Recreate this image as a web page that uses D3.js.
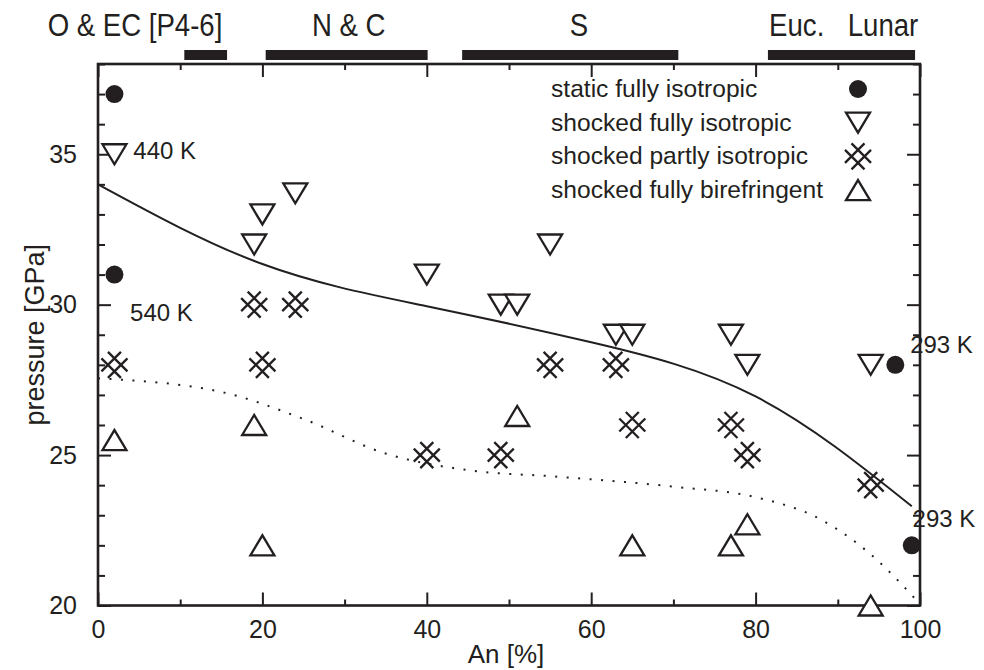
<!DOCTYPE html>
<html>
<head>
<meta charset="utf-8">
<script src="https://cdnjs.cloudflare.com/ajax/libs/d3/7.8.5/d3.min.js"></script>
<style>
  body { margin: 0; background: #fff; }
  svg text { font-family: "Liberation Sans", Arial, sans-serif; fill: #231f20; }
</style>
</head>
<body>
<div id="cnv"></div>
<script>
// data: [An %, pressure GPa]
var staticIso = [[2, 37], [2, 31], [97, 28], [99, 22]];
var shockedFullIso = [[2, 35], [19, 32], [20, 33], [24, 33.7], [40, 31], [49, 30], [51, 30],
  [55, 32], [63, 29], [65, 29], [77, 29], [79, 28], [94, 28]];
var shockedPartIso = [[2, 28], [19, 30], [20, 28], [24, 30], [40, 25], [49, 25], [55, 28],
  [63, 28], [65, 26], [77, 26], [79, 25], [94, 24]];
var shockedBiref = [[2, 25.5], [19, 26], [20, 22], [51, 26.3], [65, 22], [77, 22], [79, 22.7], [94, 20]];

// fitted boundaries
var upperCurve = [[0, 34], [20, 31.35], [40, 29.95], [60, 28.75], [80, 26.95], [99, 23.3]];
var lowerCurve = [[0, 27.55], [15, 27.1], [25, 26.2], [35, 25.05], [45, 24.5], [56, 24.28], [70, 23.95],
  [80, 23.6], [88, 22.85], [94, 21.7], [100, 20.05]];

// meteorite groups along the top
var groupNames = ["O & EC [P4-6]", "N & C", "S", "Euc.", "Lunar"];
var groupLabelAn = [4.5, 30.5, 58.5, 85, 95.5];
var groupBars = [[10.5, 15.7], [20.4, 40.1], [44.3, 70.6], [81.5, 99.4]];

// temperature notes
var tempNotes = [{t: "440 K", an: 4.3, p: 34.85}, {t: "540 K", an: 3.9, p: 29.45},
  {t: "293 K", an: 98.8, p: 28.4}, {t: "293 K", an: 99.1, p: 22.6}];

var legendLabels = ["static fully isotropic", "shocked fully isotropic",
  "shocked partly isotropic", "shocked fully birefringent"];

var xMajorTicks = [0, 20, 40, 60, 80, 100];
var yMajorTicks = [20, 25, 30, 35];

var width = 984, height = 670;
var margin = {top: 64, right: 64, bottom: 64.5, left: 98},
    graphWidth = width - margin.left - margin.right,
    graphHeight = height - margin.top - margin.bottom;
var ink = "#231f20";

var svg = d3.select("#cnv").append("svg")
  .attr("width", width)
  .attr("height", height);

var g = svg.append("g")
  .attr("transform", "translate(" + margin.left + "," + margin.top + ")");

var xScale = d3.scaleLinear().domain([0, 100]).range([0, graphWidth]);
var yScale = d3.scaleLinear().domain([20, 38]).range([graphHeight, 0]);

var xMinor = d3.range(0, 101, 10).filter(function(d){ return xMajorTicks.indexOf(d) < 0; });
var yMinor = d3.range(20, 39, 1).filter(function(d){ return yMajorTicks.indexOf(d) < 0; });

function styleAxis(sel) {
  sel.select(".domain").remove();
  sel.selectAll("line").attr("stroke", ink).attr("stroke-width", 2);
  sel.selectAll("text").style("font-size", "25px").attr("fill", ink);
}

// ticks point inward on all four sides
g.append("g").attr("transform", "translate(0," + graphHeight + ")")
  .call(d3.axisBottom(xScale).tickValues(xMajorTicks).tickSize(-13).tickPadding(15).tickFormat(d3.format("d")))
  .call(styleAxis);
g.append("g").attr("transform", "translate(0," + graphHeight + ")")
  .call(d3.axisBottom(xScale).tickValues(xMinor).tickSize(-6).tickFormat(""))
  .call(styleAxis);
g.append("g")
  .call(d3.axisTop(xScale).tickValues(xMajorTicks).tickSize(-13).tickFormat(""))
  .call(styleAxis);
g.append("g")
  .call(d3.axisTop(xScale).tickValues(xMinor).tickSize(-6).tickFormat(""))
  .call(styleAxis);
g.append("g")
  .call(d3.axisLeft(yScale).tickValues(yMajorTicks).tickSize(-13).tickPadding(21))
  .call(styleAxis);
g.append("g")
  .call(d3.axisLeft(yScale).tickValues(yMinor).tickSize(-7).tickFormat(""))
  .call(styleAxis);
g.append("g").attr("transform", "translate(" + graphWidth + ",0)")
  .call(d3.axisRight(yScale).tickValues(yMajorTicks).tickSize(-13).tickFormat(""))
  .call(styleAxis);
g.append("g").attr("transform", "translate(" + graphWidth + ",0)")
  .call(d3.axisRight(yScale).tickValues(yMinor).tickSize(-7).tickFormat(""))
  .call(styleAxis);

g.append("rect")
  .attr("width", graphWidth)
  .attr("height", graphHeight)
  .attr("fill", "none")
  .attr("stroke", ink)
  .attr("stroke-width", 2.6);

// axis titles
svg.append("text")
  .attr("text-anchor", "middle")
  .attr("x", margin.left + xScale(50) - 3)
  .attr("y", 663)
  .style("font-size", "26px")
  .text("An [%]");
svg.append("text")
  .attr("text-anchor", "middle")
  .attr("transform", "translate(44," + (margin.top + graphHeight / 2) + ") rotate(-90)")
  .style("font-size", "27px")
  .text("pressure [GPa]");

// group bars and names (names are set a little condensed)
svg.selectAll(".gbar").data(groupBars).enter().append("rect")
  .attr("class", "gbar")
  .attr("x", function(d){ return margin.left + xScale(d[0]); })
  .attr("width", function(d){ return xScale(d[1]) - xScale(d[0]); })
  .attr("y", 50)
  .attr("height", 10)
  .attr("fill", ink);
svg.selectAll(".gname").data(groupNames).enter().append("text")
  .attr("class", "gname")
  .attr("text-anchor", "middle")
  .attr("transform", function(d, i){
    return "translate(" + (margin.left + xScale(groupLabelAn[i])) + ",36) scale(0.89,1)";
  })
  .style("font-size", "31px")
  .text(function(d){ return d; });

// fitted lines
var line = d3.line()
  .x(function(d){ return xScale(d[0]); })
  .y(function(d){ return yScale(d[1]); });
g.append("path").datum(upperCurve)
  .attr("d", line.curve(d3.curveNatural))
  .attr("fill", "none")
  .attr("stroke", ink)
  .attr("stroke-width", 2);
g.append("path").datum(lowerCurve)
  .attr("d", line.curve(d3.curveMonotoneX))
  .attr("fill", "none")
  .attr("stroke", ink)
  .attr("stroke-width", 2)
  .attr("stroke-dasharray", "2 9.5");

// marker shapes
var triDown = "M-12,-10L12,-10L0,10Z",
    triUp = "M-12,10L12,10L0,-10Z",
    hatch = "M-13,-6.5L6.5,13M-6.5,-13L13,6.5M-13,6.5L6.5,-13M-6.5,13L13,-6.5";

function drawMarks(data, kind) {
  var sel = g.selectAll(".m-" + kind).data(data).enter();
  if (kind == "circle") {
    sel.append("circle")
      .attr("class", "m-" + kind)
      .attr("cx", function(d){ return xScale(d[0]); })
      .attr("cy", function(d){ return yScale(d[1]); })
      .attr("r", 9)
      .attr("fill", ink);
  } else {
    sel.append("path")
      .attr("class", "m-" + kind)
      .attr("transform", function(d){ return "translate(" + xScale(d[0]) + "," + yScale(d[1]) + ")"; })
      .attr("d", kind == "down" ? triDown : kind == "up" ? triUp : hatch)
      .attr("fill", kind == "hatch" ? "none" : "#fff")
      .attr("stroke", ink)
      .attr("stroke-width", 2.3);
  }
}
drawMarks(staticIso, "circle");
drawMarks(shockedFullIso, "down");
drawMarks(shockedPartIso, "hatch");
drawMarks(shockedBiref, "up");

// temperature notes
g.selectAll(".note").data(tempNotes).enter().append("text")
  .attr("class", "note")
  .attr("x", function(d){ return xScale(d.an); })
  .attr("y", function(d){ return yScale(d.p); })
  .style("font-size", "24px")
  .text(function(d){ return d.t; });

// legend
var legendKinds = ["circle", "down", "hatch", "up"];
var legend = svg.append("g").attr("transform", "translate(551,89)");
legendLabels.forEach(function(lab, i){
  var yy = i * 33.7;
  legend.append("text")
    .attr("x", 0)
    .attr("y", yy + 8)
    .style("font-size", "24.6px")
    .text(lab);
  if (legendKinds[i] == "circle") {
    legend.append("circle").attr("cx", 307).attr("cy", yy).attr("r", 9).attr("fill", ink);
  } else {
    var k = legendKinds[i];
    legend.append("path")
      .attr("transform", "translate(307," + yy + ")")
      .attr("d", k == "down" ? triDown : k == "up" ? triUp : hatch)
      .attr("fill", k == "hatch" ? "none" : "#fff")
      .attr("stroke", ink)
      .attr("stroke-width", 2.3);
  }
});
</script>
</body>
</html>
